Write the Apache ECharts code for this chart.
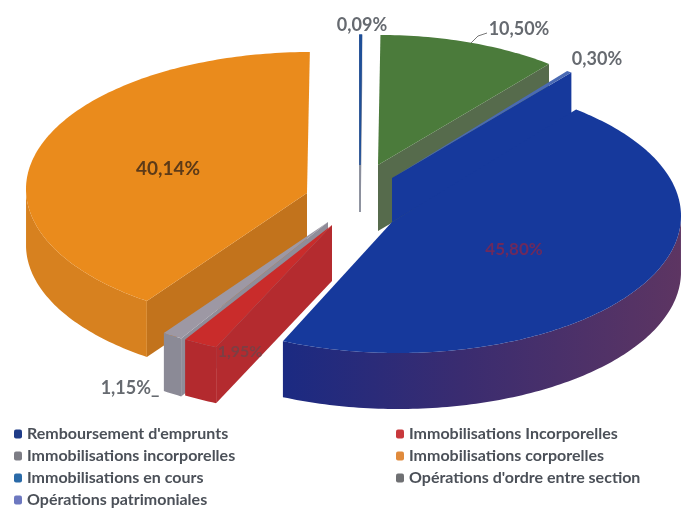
<!DOCTYPE html>
<html><head><meta charset="utf-8">
<style>html,body{margin:0;padding:0;background:#fff}#c{width:681px;height:508px}</style>
<script src="https://cdn.jsdelivr.net/npm/echarts@6/dist/echarts.min.js"></script></head>
<body><div id="c"></div>
<script>
const categories = ["Remboursement d'emprunts","Immobilisations Incorporelles","Immobilisations incorporelles","Immobilisations corporelles","Immobilisations en cours","Opérations d'ordre entre section","Opérations patrimoniales"];
const values = [45.80,1.95,1.15,40.14,0.09,10.50,0.30];
const valueLabels = ["45,80%","1,95%","1,15%_","40,14%","0,09%","10,50%","0,30%"];
const legendColors = ['#1f3c88','#c8383c','#7d7d85','#e08a3c','#2a6aa8','#6f7073','#6d78c0'];

// look of each slice: centre of its ellipse, apex of the wedge, thickness, colours
const look = [
 {cx:398,cy:216,rx:283,ax:392,ay:222,d:56,top:'#16399c',rim:{type:'linear',x:0,y:0,x2:1,y2:0,colorStops:[{offset:0,color:'#1b2a82'},{offset:0.45,color:'#3a2c70'},{offset:1,color:'#5d3562'}]},cut:'#16399c'},
 {cx:332,cy:222,ax:332,ay:225,d:56,top:'#c92c2b',rim:'#b32a2e',cut:'#b42b2f'},
 {cx:328,cy:221,ax:328,ay:222,d:58,top:'#9d98a4',rim:'#8b8a96',cut:'#8f8d99'},
 {cx:311,cy:189,ax:307,ay:193,d:56,top:'#ea8b1c',rim:'#d7811f',cut:'#c2731c'},
 {cx:361,cy:172,ax:360,ay:165,d:47,top:'#1f4f98',rim:'#8a8f9c',cut:'#8a8f9c',stroke:1.5},
 {cx:380,cy:172,rx:275,ax:378,ay:165,d:66,top:'#4b7b3b',rim:'#566b4c',cut:'#566b4c'},
 {cx:392,cy:179,ax:392,ay:178,d:44,top:'#4a6ab4',rim:'#16399c',cut:'#16399c'}
];
const labelSpots = [
 {x:514,y:250,size:17,color:'#6e2a5c'},
 {x:240,y:352,size:16,color:'#7c3f44'},
 {x:130,y:388,size:18,color:'#666a70'},
 {x:168,y:169,size:19,color:'#5c3a18'},
 {x:362,y:25,size:18,color:'#666a70'},
 {x:519,y:29,size:18,color:'#666a70'},
 {x:597,y:59,size:18,color:'#666a70'}
];
const paintOrder = [5,4,6,3,2,1,0];
const RX = 285, RY = 137, FIRST_ANGLE = 39;

const total = values.reduce((a,b)=>a+b,0);
const spans = []; { let a = FIRST_ANGLE; values.forEach(v=>{ const s=v/total*360; spans.push([a,a+s]); a+=s; }); }
const rad = d=>d*Math.PI/180;
const norm = d=>((d%360)+360)%360;

function sliceShapes(i){
  const L = look[i], [s,e] = spans[i], rx = L.rx||RX;
  const pt = (t,dy)=>[L.cx+rx*Math.sin(rad(t)), L.cy-RY*Math.cos(rad(t))+(dy||0)];
  const arc = [], steps = Math.max(2,Math.ceil(e-s));
  for(let k=0;k<=steps;k++) arc.push(s+(e-s)*k/steps);
  const poly = (pts,fill)=>({type:'polygon',shape:{points:pts},style:{fill:fill,stroke:L.stroke?fill:null,lineWidth:L.stroke||0},silent:true});
  const out = [];
  const ap=[L.ax,L.ay], apB=[L.ax,L.ay+L.d];
  if(norm(e)<180) { const p=pt(e),q=pt(e,L.d); out.push(poly([ap,p,q,apB],L.cut)); }
  if(norm(s)>=180){ const p=pt(s),q=pt(s,L.d); out.push(poly([ap,p,q,apB],L.cut)); }
  const front = arc.filter(t=>{const n=norm(t);return n>=90&&n<=270;});
  if(front.length>1){
    out.push(poly(front.map(t=>pt(t)).concat(front.slice().reverse().map(t=>pt(t,L.d))),L.rim));
  }
  out.push(poly([ap].concat(arc.map(t=>pt(t))),L.top));
  if(i===5){ out.push({type:'polyline',shape:{points:[[471,43],[478,36],[487,33]]},style:{stroke:'#777',lineWidth:1,fill:null},silent:true}); }
  return out;
}
function labelEl(i){
  const T = labelSpots[i];
  return {type:'text',z2:50,silent:true,x:T.x,y:T.y,style:{text:valueLabels[i],fill:T.color,font:'bold '+T.size+'px Lato, "Open Sans", sans-serif',textAlign:'center',textVerticalAlign:'middle'}};
}
const series = paintOrder.map(i=>({
  type:'custom',name:categories[i],coordinateSystem:'none',animation:false,
  itemStyle:{color:legendColors[i]},
  data:[[values[i]]],
  renderItem:()=>({type:'group',children:sliceShapes(i).concat([labelEl(i)])})
}));
const legendBase = {orient:'vertical',itemWidth:8,itemHeight:9,itemGap:6,icon:'roundRect',selectedMode:false,padding:0,height:110,
  textStyle:{fontFamily:'Lato, "Open Sans", sans-serif',fontWeight:'bold',fontSize:16,color:'#4b5058',lineHeight:16}};
const chart = echarts.init(document.getElementById('c'),null,{renderer:'canvas'});
chart.setOption({
  backgroundColor:'#fff',animation:false,
  legend:[
    Object.assign({},legendBase,{left:14,top:426,data:[0,2,4,6].map(i=>categories[i])}),
    Object.assign({},legendBase,{left:396,top:426,data:[1,3,5].map(i=>categories[i])})
  ],
  series:series
});
</script></body></html>
